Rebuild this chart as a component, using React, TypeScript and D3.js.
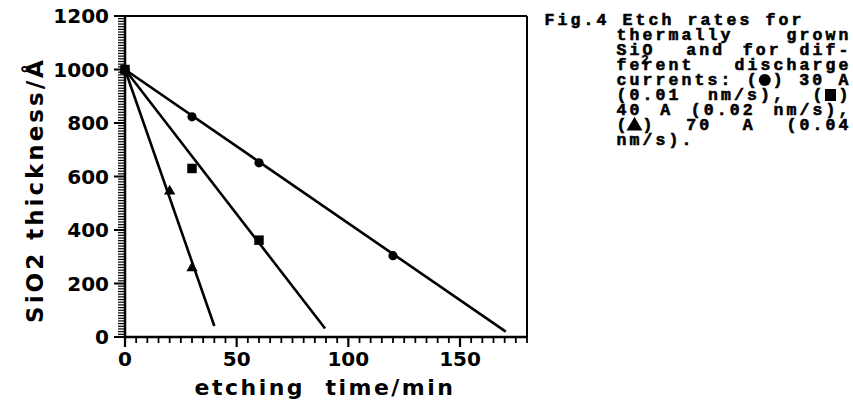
import React from "react";
import * as d3 from "d3";

// Measured oxide thickness (Å) versus etching time (min) for each discharge current
const time30 = [0, 30, 60, 120];
const thick30 = [1000, 823, 651, 304];
const time40 = [0, 30, 60];
const thick40 = [1000, 630, 362];
const time70 = [0, 20, 30];
const thick70 = [1000, 545, 258];

// Straight-line fits: start and end of each etch line
const fitTime30 = [0, 170.5];
const fitThick30 = [1000, 20];
const fitTime40 = [0, 89.6];
const fitThick40 = [1000, 32];
const fitTime70 = [0, 40];
const fitThick70 = [1000, 41];

const xTicks = [0, 50, 100, 150];
const yTicks = [0, 200, 400, 600, 800, 1000, 1200];

// Caption text, one array of words per printed line
const captionFirst = ["Fig.4", "Etch", "rates", "for"];
const captionLines: string[][] = [
  ["thermally", "grown"],
  ["SiO2", "and", "for", "dif-"],
  ["ferent", "discharge"],
  ["currents:", "(●)", "30", "A"],
  ["(0.01", "nm/s),", "(■)"],
  ["40", "A", "(0.02", "nm/s),"],
  ["(▲)", "70", "A", "(0.04"],
  ["nm/s)."],
];

const W = 853;
const H = 402;
const left = 125;
const right = 527;
const top = 16;
const bottom = 337;

const sans = "'DejaVu Sans', sans-serif";
const mono = "'Liberation Mono', 'DejaVu Sans Mono', monospace";

export default function App() {
  const x = d3.scaleLinear().domain([0, 180]).range([left, right]);
  const y = d3.scaleLinear().domain([0, 1200]).range([bottom, top]);

  const line = d3
    .line<[number, number]>()
    .x((d) => x(d[0]))
    .y((d) => y(d[1]));

  const fits = [
    { t: fitTime30, v: fitThick30 },
    { t: fitTime40, v: fitThick40 },
    { t: fitTime70, v: fitThick70 },
  ];

  const xMinor = d3.range(0, 181, 5);
  const yMinor = d3.range(0, 1201, 10);

  const tri = d3.symbol().type(d3.symbolTriangle).size(55)()!;
  const sq = d3.symbol().type(d3.symbolSquare).size(90)()!;

  // caption layout: typewriter cells, justified lines
  const charW = 13;
  const capLeft = 615;
  const capRight = 850;
  const lineH = 15;
  const firstBase = 25;

  type Word = { text: string; x: number; y: number };
  const captionWords: Word[] = [];
  let fx = 543;
  captionFirst.forEach((w) => {
    captionWords.push({ text: w, x: fx, y: firstBase });
    fx += (w.length + 1) * charW;
  });
  captionLines.forEach((words, i) => {
    const yy = firstBase + lineH * (i + 1);
    const widths = words.map((w) => w.length * charW);
    const isLast = i === captionLines.length - 1;
    const gap =
      words.length > 1 && !isLast
        ? (capRight - capLeft - d3.sum(widths)) / (words.length - 1)
        : charW;
    let cx = capLeft;
    words.forEach((w, j) => {
      captionWords.push({ text: w, x: cx, y: yy });
      cx += widths[j] + gap;
    });
  });

  const cells = (text: string, x0: number) =>
    Array.from(text)
      .map((_, k) => (x0 + k * charW + 1.5).toFixed(1))
      .join(" ");

  const symbolGlyph = (ch: string, cx: number, cy: number) => {
    if (ch === "●") return <circle cx={cx} cy={cy} r={6} />;
    if (ch === "■") return <rect x={cx - 5.5} y={cy - 6} width={11} height={12} />;
    return (
      <path
        d={d3.symbol().type(d3.symbolTriangle).size(110)()!}
        transform={`translate(${cx},${cy + 1})`}
      />
    );
  };

  const renderWord = (w: Word, i: number) => {
    if (w.text === "SiO2") {
      return (
        <g key={"w" + i}>
          <text x={cells("SiO", w.x)} y={w.y}>
            SiO
          </text>
          <text x={w.x + 26} y={w.y + 9} fontSize={13} strokeWidth={0.3}>
            2
          </text>
        </g>
      );
    }
    const m = w.text.match(/[●■▲]/);
    if (m) {
      const k = w.text.indexOf(m[0]);
      return (
        <g key={"w" + i}>
          <text x={cells(w.text, w.x)} y={w.y} style={{ whiteSpace: "pre" }}>
            {w.text.replace(m[0], " ")}
          </text>
          <g stroke="none">{symbolGlyph(m[0], w.x + k * charW + charW / 2, w.y - 5)}</g>
        </g>
      );
    }
    return (
      <text key={"w" + i} x={cells(w.text, w.x)} y={w.y}>
        {w.text}
      </text>
    );
  };

  return (
    <svg
      width={W}
      height={H}
      style={{ position: "absolute", left: 0, top: 0, background: "#fff" }}
    >
      {/* frame */}
      <g stroke="#000" fill="none">
        <line x1={left} x2={right} y1={top} y2={top} strokeWidth={2} />
        <line x1={right} x2={right} y1={top} y2={bottom} strokeWidth={2} />
        <line x1={left} x2={left} y1={top} y2={bottom + 1} strokeWidth={2.5} />
        <line x1={left - 1} x2={right + 1} y1={bottom} y2={bottom} strokeWidth={2.5} />
      </g>

      {/* y ticks */}
      <g stroke="#000">
        {yMinor.map((v) => (
          <line
            key={"ym" + v}
            x1={left}
            x2={left - (v % 200 === 0 ? 11 : 7)}
            y1={y(v)}
            y2={y(v)}
            strokeWidth={v % 200 === 0 ? 2 : 1.2}
          />
        ))}
      </g>
      {/* x ticks */}
      <g stroke="#000">
        {xMinor.map((v) => (
          <line
            key={"xm" + v}
            x1={x(v)}
            x2={x(v)}
            y1={bottom}
            y2={bottom + (v % 50 === 0 ? 10 : 6)}
            strokeWidth={v % 50 === 0 ? 2.2 : 1.8}
          />
        ))}
      </g>

      {/* tick labels */}
      <g fontFamily={sans} fontWeight="bold" fontSize={20} fill="#000">
        {yTicks.map((v) => (
          <text key={"yl" + v} x={109} y={y(v) + 7} textAnchor="end">
            {v}
          </text>
        ))}
        {xTicks.map((v) => (
          <text key={"xl" + v} x={x(v)} y={366} textAnchor="middle">
            {v}
          </text>
        ))}
      </g>

      {/* axis titles */}
      <text
        transform="translate(43,190) rotate(-90)"
        textAnchor="middle"
        fontFamily={sans}
        fontWeight="bold"
        fontSize={23}
        letterSpacing={3}
        fill="#000"
      >
        SiO2 thickness/Å
      </text>
      <text
        x={325}
        y={395}
        textAnchor="middle"
        fontFamily={sans}
        fontWeight="bold"
        fontSize={22}
        letterSpacing={2.5}
        fill="#000"
        style={{ whiteSpace: "pre" }}
      >
        {"etching  time/min"}
      </text>

      {/* fitted etch lines */}
      <g stroke="#000" strokeWidth={2.6} fill="none" strokeLinecap="butt">
        {fits.map((f, i) => (
          <path
            key={"fit" + i}
            d={line(f.t.map((t, k) => [t, f.v[k]] as [number, number]))!}
          />
        ))}
      </g>

      {/* data markers */}
      <g fill="#000">
        {time30.map((t, i) => (
          <circle key={"c" + i} cx={x(t)} cy={y(thick30[i])} r={4.6} />
        ))}
        {time40.map((t, i) => (
          <path
            key={"s" + i}
            d={sq}
            transform={`translate(${x(t)},${y(thick40[i])})`}
          />
        ))}
        {time70.map((t, i) => (
          <path
            key={"t" + i}
            d={tri}
            transform={`translate(${x(t)},${y(thick70[i])})`}
          />
        ))}
      </g>

      {/* caption */}
      <g
        fontFamily={mono}
        fontWeight="bold"
        fontSize={16.5}
        fill="#000"
        stroke="#000"
        strokeWidth={0.6}
      >
        {captionWords.map(renderWord)}
      </g>
    </svg>
  );
}
